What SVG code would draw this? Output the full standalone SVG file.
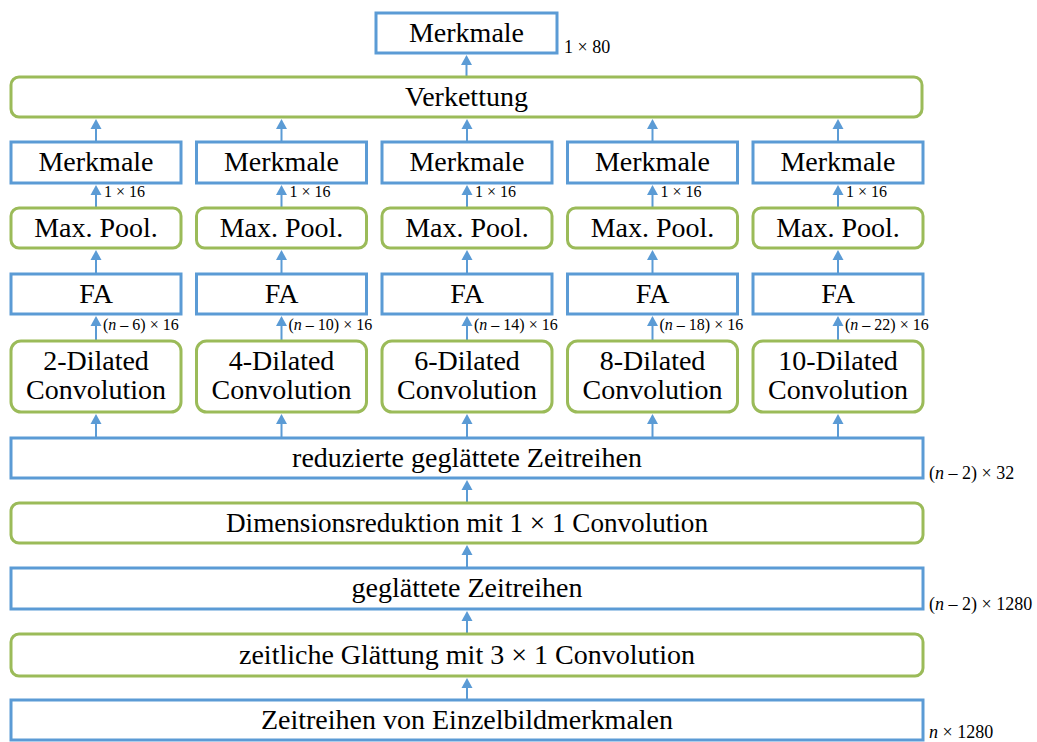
<svg xmlns="http://www.w3.org/2000/svg" width="1037" height="742" viewBox="0 0 1037 742">
  <style>
    .blue { fill: #ffffff; stroke: #5B9BD5; stroke-width: 3; }
    .green { fill: #ffffff; stroke: #9BBB59; stroke-width: 3; }
    .t { font-family: "Liberation Serif", "Times New Roman", serif; font-size: 28px; fill: #000; text-anchor: middle; }
    .s { font-family: "Liberation Serif", "Times New Roman", serif; font-size: 16px; fill: #000; }
    .b { font-family: "Liberation Serif", "Times New Roman", serif; font-size: 18px; fill: #000; }
    .arr { stroke: #5B9BD5; stroke-width: 2; fill: none; marker-end: url(#head); }
  </style>
  <defs>
    <marker id="head" markerUnits="userSpaceOnUse" markerWidth="10" markerHeight="11" refX="0" refY="5.5" orient="auto" overflow="visible">
      <path d="M0,0 L10,5.5 L0,11 Z" fill="#5B9BD5"/>
    </marker>
  </defs>

  <rect width="1037" height="742" fill="#ffffff"/>

  <!-- connectors -->
  <g id="connectors">
    <line class="arr" x1="466.5" y1="77" x2="466.5" y2="65"/>
    <!-- column arrows -->
    <g id="col-arrows">
      <line class="arr" x1="96" y1="142" x2="96" y2="129"/>
      <line class="arr" x1="281.5" y1="142" x2="281.5" y2="129"/>
      <line class="arr" x1="467" y1="142" x2="467" y2="129"/>
      <line class="arr" x1="652.5" y1="142" x2="652.5" y2="129"/>
      <line class="arr" x1="838" y1="142" x2="838" y2="129"/>

      <line class="arr" x1="96" y1="208" x2="96" y2="195"/>
      <line class="arr" x1="281.5" y1="208" x2="281.5" y2="195"/>
      <line class="arr" x1="467" y1="208" x2="467" y2="195"/>
      <line class="arr" x1="652.5" y1="208" x2="652.5" y2="195"/>
      <line class="arr" x1="838" y1="208" x2="838" y2="195"/>

      <line class="arr" x1="96" y1="274" x2="96" y2="260"/>
      <line class="arr" x1="281.5" y1="274" x2="281.5" y2="260"/>
      <line class="arr" x1="467" y1="274" x2="467" y2="260"/>
      <line class="arr" x1="652.5" y1="274" x2="652.5" y2="260"/>
      <line class="arr" x1="838" y1="274" x2="838" y2="260"/>

      <line class="arr" x1="96" y1="341" x2="96" y2="326"/>
      <line class="arr" x1="281.5" y1="341" x2="281.5" y2="326"/>
      <line class="arr" x1="467" y1="341" x2="467" y2="326"/>
      <line class="arr" x1="652.5" y1="341" x2="652.5" y2="326"/>
      <line class="arr" x1="838" y1="341" x2="838" y2="326"/>

      <line class="arr" x1="96" y1="438" x2="96" y2="424"/>
      <line class="arr" x1="281.5" y1="438" x2="281.5" y2="424"/>
      <line class="arr" x1="467" y1="438" x2="467" y2="424"/>
      <line class="arr" x1="652.5" y1="438" x2="652.5" y2="424"/>
      <line class="arr" x1="838" y1="438" x2="838" y2="424"/>
    </g>
    <line class="arr" x1="467" y1="503" x2="467" y2="490"/>
    <line class="arr" x1="467" y1="568" x2="467" y2="555"/>
    <line class="arr" x1="467" y1="634" x2="467" y2="621"/>
    <line class="arr" x1="467" y1="700" x2="467" y2="688"/>
  </g>

  <!-- output features -->
  <g id="merkmale-out">
    <rect class="blue" x="376" y="13" width="181" height="40"/>
    <text class="t" x="466.5" y="42">Merkmale</text>
    <text class="b" x="564" y="53">1 × 80</text>
  </g>

  <g id="verkettung">
    <rect class="green" x="11" y="77" width="911" height="40" rx="8"/>
    <text class="t" x="466.5" y="106">Verkettung</text>
  </g>

  <!-- five parallel branches -->
  <g id="branch-1">
    <rect class="blue" x="11" y="142" width="170" height="41"/>
    <text class="t" x="96" y="171">Merkmale</text>
    <text class="s" x="104" y="197">1 × 16</text>
    <rect class="green" x="11" y="208" width="170" height="40" rx="8"/>
    <text class="t" x="96" y="237">Max. Pool.</text>
    <rect class="blue" x="11" y="274" width="170" height="40"/>
    <text class="t" x="96" y="303">FA</text>
    <text class="s" x="103" y="330">(<tspan font-style="italic">n</tspan> – 6) × 16</text>
    <rect class="green" x="11" y="341" width="170" height="71" rx="10"/>
    <text class="t" x="96" y="370">2-Dilated</text>
    <text class="t" x="96" y="399">Convolution</text>
  </g>

  <g id="branch-2">
    <rect class="blue" x="196.5" y="142" width="170" height="41"/>
    <text class="t" x="281.5" y="171">Merkmale</text>
    <text class="s" x="289.5" y="197">1 × 16</text>
    <rect class="green" x="196.5" y="208" width="170" height="40" rx="8"/>
    <text class="t" x="281.5" y="237">Max. Pool.</text>
    <rect class="blue" x="196.5" y="274" width="170" height="40"/>
    <text class="t" x="281.5" y="303">FA</text>
    <text class="s" x="288.5" y="330">(<tspan font-style="italic">n</tspan> – 10) × 16</text>
    <rect class="green" x="196.5" y="341" width="170" height="71" rx="10"/>
    <text class="t" x="281.5" y="370">4-Dilated</text>
    <text class="t" x="281.5" y="399">Convolution</text>
  </g>

  <g id="branch-3">
    <rect class="blue" x="382" y="142" width="170" height="41"/>
    <text class="t" x="467" y="171">Merkmale</text>
    <text class="s" x="475" y="197">1 × 16</text>
    <rect class="green" x="382" y="208" width="170" height="40" rx="8"/>
    <text class="t" x="467" y="237">Max. Pool.</text>
    <rect class="blue" x="382" y="274" width="170" height="40"/>
    <text class="t" x="467" y="303">FA</text>
    <text class="s" x="474" y="330">(<tspan font-style="italic">n</tspan> – 14) × 16</text>
    <rect class="green" x="382" y="341" width="170" height="71" rx="10"/>
    <text class="t" x="467" y="370">6-Dilated</text>
    <text class="t" x="467" y="399">Convolution</text>
  </g>

  <g id="branch-4">
    <rect class="blue" x="567.5" y="142" width="170" height="41"/>
    <text class="t" x="652.5" y="171">Merkmale</text>
    <text class="s" x="660.5" y="197">1 × 16</text>
    <rect class="green" x="567.5" y="208" width="170" height="40" rx="8"/>
    <text class="t" x="652.5" y="237">Max. Pool.</text>
    <rect class="blue" x="567.5" y="274" width="170" height="40"/>
    <text class="t" x="652.5" y="303">FA</text>
    <text class="s" x="659.5" y="330">(<tspan font-style="italic">n</tspan> – 18) × 16</text>
    <rect class="green" x="567.5" y="341" width="170" height="71" rx="10"/>
    <text class="t" x="652.5" y="370">8-Dilated</text>
    <text class="t" x="652.5" y="399">Convolution</text>
  </g>

  <g id="branch-5">
    <rect class="blue" x="753" y="142" width="170" height="41"/>
    <text class="t" x="838" y="171">Merkmale</text>
    <text class="s" x="846" y="197">1 × 16</text>
    <rect class="green" x="753" y="208" width="170" height="40" rx="8"/>
    <text class="t" x="838" y="237">Max. Pool.</text>
    <rect class="blue" x="753" y="274" width="170" height="40"/>
    <text class="t" x="838" y="303">FA</text>
    <text class="s" x="845" y="330">(<tspan font-style="italic">n</tspan> – 22) × 16</text>
    <rect class="green" x="753" y="341" width="170" height="71" rx="10"/>
    <text class="t" x="838" y="370">10-Dilated</text>
    <text class="t" x="838" y="399">Convolution</text>
  </g>

  <!-- shared trunk -->
  <g id="reduzierte">
    <rect class="blue" x="11" y="438" width="912" height="40"/>
    <text class="t" x="467" y="467">reduzierte geglättete Zeitreihen</text>
    <text class="b" x="929" y="479">(<tspan font-style="italic">n</tspan> – 2) × 32</text>
  </g>

  <g id="dimensionsreduktion">
    <rect class="green" x="11" y="503" width="912" height="40" rx="8"/>
    <text class="t" x="467" y="532" textLength="482" lengthAdjust="spacingAndGlyphs">Dimensionsreduktion mit 1 × 1 Convolution</text>
  </g>

  <g id="geglaettete">
    <rect class="blue" x="11" y="568" width="912" height="41"/>
    <text class="t" x="467" y="597">geglättete Zeitreihen</text>
    <text class="b" x="929" y="610">(<tspan font-style="italic">n</tspan> – 2) × 1280</text>
  </g>

  <g id="glaettung">
    <rect class="green" x="11" y="634" width="912" height="42" rx="8"/>
    <text class="t" x="467" y="664">zeitliche Glättung mit 3 × 1 Convolution</text>
  </g>

  <g id="zeitreihen">
    <rect class="blue" x="11" y="700" width="912" height="40"/>
    <text class="t" x="467" y="729">Zeitreihen von Einzelbildmerkmalen</text>
    <text class="b" x="929" y="738"><tspan font-style="italic">n</tspan> × 1280</text>
  </g>
</svg>
